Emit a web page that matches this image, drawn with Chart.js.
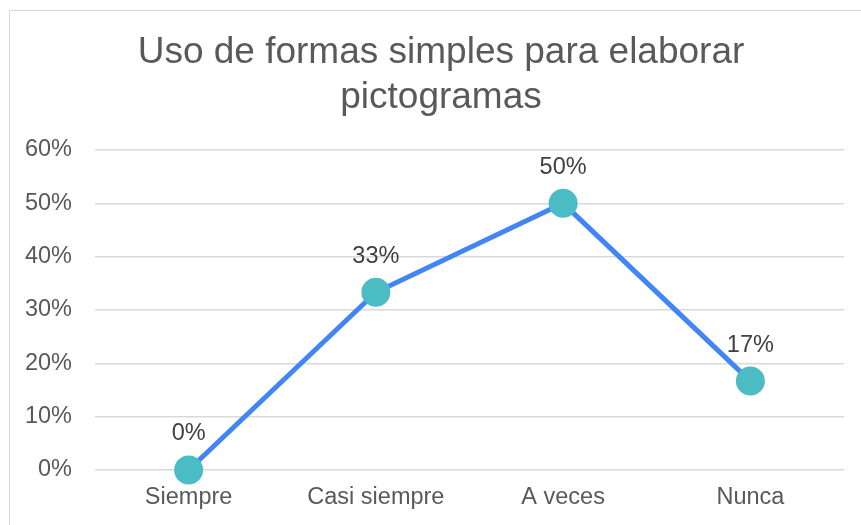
<!DOCTYPE html>
<html>
<head>
<meta charset="utf-8">
<script src="https://cdn.jsdelivr.net/npm/chart.js@4/dist/chart.umd.min.js"></script>
<style>
  html, body { margin: 0; padding: 0; background: #fff; overflow: hidden; }
  #frame { position: absolute; left: 9px; top: 10px; width: 880px; height: 540px; border: 1px solid #d9d9d9; box-sizing: border-box; }
  #wrap { position: absolute; left: 0; top: 0; width: 861px; height: 525px; }
</style>
</head>
<body>
<div id="frame"></div>
<div id="wrap"><canvas id="chart" width="861" height="525"></canvas></div>
<script>
const categories = ['Siempre', 'Casi siempre', 'A veces', 'Nunca'];
const values = [0, 33.33, 50, 16.67];
const valueLabels = ['0%', '33%', '50%', '17%'];
const titleLines = ['Uso de formas simples para elaborar', 'pictogramas'];

const FONT = '"Liberation Sans", Arial, sans-serif';

// draws the percentage text above each point
const pointLabels = {
  id: 'pointLabels',
  afterDatasetsDraw(chart) {
    const ctx = chart.ctx;
    const meta = chart.getDatasetMeta(0);
    ctx.save();
    ctx.font = '23.5px ' + FONT;
    ctx.fillStyle = '#404040';
    ctx.textAlign = 'center';
    ctx.textBaseline = 'middle';
    meta.data.forEach((pt, i) => {
      ctx.fillText(valueLabels[i], pt.x, pt.y - 36);
    });
    ctx.restore();
  }
};

// title sits a bit right of the canvas centre, like the original
const chartTitle = {
  id: 'chartTitle',
  afterDraw(chart) {
    const ctx = chart.ctx;
    ctx.save();
    ctx.font = '37px ' + FONT;
    ctx.fillStyle = '#595959';
    ctx.textAlign = 'center';
    ctx.textBaseline = 'middle';
    titleLines.forEach((line, i) => ctx.fillText(line, 441, 53 + i * 45));
    ctx.restore();
  }
};

new Chart(document.getElementById('chart'), {
  type: 'line',
  data: {
    labels: categories,
    datasets: [{
      data: values,
      borderColor: '#4285f4',
      borderWidth: 5,
      pointBackgroundColor: '#4bbcc4',
      pointBorderColor: '#4bbcc4',
      pointRadius: 12,
      pointHoverRadius: 12,
      tension: 0,
      fill: false,
      clip: false,
    }],
  },
  options: {
    responsive: false,
    animation: false,
    layout: { padding: { left: 0, right: 16, top: 150, bottom: 0 } },
    plugins: {
      legend: { display: false },
      tooltip: { enabled: false },
      title: { display: false },
    },
    scales: {
      x: {
        offset: true,
        grid: { display: false, drawTicks: false },
        border: { display: false },
        ticks: {
          color: '#595959',
          padding: 13,
          font: { family: FONT, size: 23.5 },
        },
        afterFit(scale) { scale.height = 55; },
      },
      y: {
        min: 0,
        max: 60,
        grid: { color: '#d9d9d9', lineWidth: 1.5, drawTicks: false },
        border: { display: false },
        ticks: {
          stepSize: 10,
          color: '#595959',
          padding: 23,
          font: { family: FONT, size: 23.5 },
          callback: v => v + '%',
        },
        afterFit(scale) { scale.width = 95; },
      },
    },
  },
  plugins: [pointLabels, chartTitle],
});
</script>
</body>
</html>
